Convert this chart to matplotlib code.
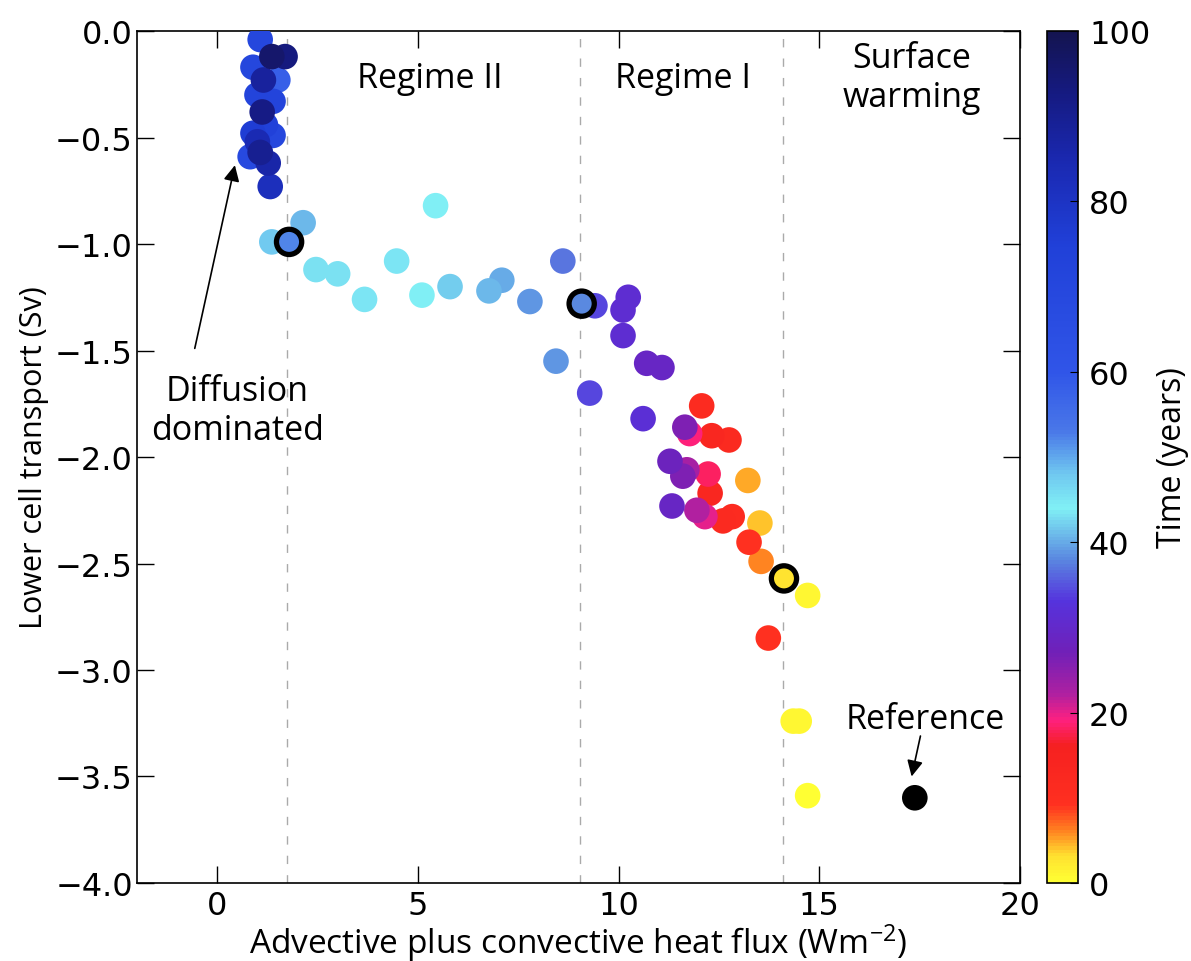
import numpy as np
import matplotlib
matplotlib.use("Agg")
import matplotlib.pyplot as plt
from matplotlib.colors import LinearSegmentedColormap, Normalize

plt.rcParams['font.family'] = ['Open Sans', 'DejaVu Sans']
plt.rcParams['mathtext.fontset'] = 'custom'
plt.rcParams['mathtext.rm'] = 'Open Sans'
plt.rcParams['mathtext.it'] = 'Open Sans:italic'

# Heat flux (W m^-2), lower-cell transport (Sv), time (years)
heat_flux = [14.71, 14.35, 14.50, 14.71, 13.52, 13.22, 13.55, 13.73, 13.25, 12.07,
             12.83, 12.60, 12.75, 12.32, 12.28, 12.23, 11.77, 12.15, 11.95, 11.70,
             11.65, 11.60, 11.28, 11.08, 10.70, 11.33, 10.11, 10.11, 10.24, 10.61,
             9.41, 9.28, 8.61, 8.44, 7.79, 7.09, 6.77, 2.14, 5.80, 3.00,
             2.46, 5.10, 5.44, 4.47, 3.67, 1.36, 1.51, 0.82, 0.89, 1.39,
             1.07, 0.99, 1.39, 1.07, 0.89, 1.32, 1.27, 1.15, 1.07, 1.12,
             1.69, 1.36, 1.20, 1.00]
transport = [-3.59, -3.24, -3.24, -2.65, -2.31, -2.11, -2.49, -2.85, -2.40, -1.76,
             -2.28, -2.30, -1.92, -1.90, -2.17, -2.08, -1.89, -2.28, -2.25, -2.06,
             -1.86, -2.09, -2.02, -1.58, -1.56, -2.23, -1.43, -1.31, -1.25, -1.82,
             -1.29, -1.70, -1.08, -1.55, -1.27, -1.17, -1.22, -0.90, -1.20, -1.14,
             -1.12, -1.24, -0.82, -1.08, -1.26, -0.99, -0.23, -0.59, -0.17, -0.49,
             -0.04, -0.30, -0.33, -0.57, -0.48, -0.73, -0.62, -0.23, -0.57, -0.38,
             -0.12, -0.12, -0.44, -0.52]
years = [0, 1, 1, 1, 4, 5, 6, 9, 9, 11,
         11, 12, 12, 13, 13, 18, 19, 20, 22, 23,
         26, 26, 28, 29, 29, 29, 31, 31, 31, 32,
         34, 34, 37, 39, 39, 40, 41, 41, 42, 43,
         43, 44, 44, 45, 45, 48, 58, 68, 70, 70,
         70, 72, 72, 75, 76, 82, 86, 88, 90, 92,
         93, 96, 74, 84]

# Highlighted states at the regime boundaries
marked_flux = [1.79, 9.08, 14.12]
marked_transport = [-0.99, -1.28, -2.57]
marked_years = [52, 38, 3]
boundaries = [1.75, 9.05, 14.1]

# Reference (unperturbed) state
ref_flux = [17.38]
ref_transport = [-3.60]

regime_labels = ["Regime II", "Regime I", "Surface\nwarming"]
regime_x = [5.3, 11.6, 17.3]

cmap = LinearSegmentedColormap.from_list("time", [
    (0.00, '#ffff33'), (0.03, '#ffe030'), (0.06, '#ff8020'), (0.09, '#ff3020'),
    (0.16, '#f52020'), (0.19, '#ff2080'), (0.22, '#b020a0'), (0.27, '#7020b8'),
    (0.33, '#5533dd'), (0.38, '#5a88e0'), (0.44, '#80f0f5'), (0.48, '#70c8f0'),
    (0.53, '#4a78e8'), (0.60, '#3055e8'), (0.75, '#2040d8'), (0.85, '#1a28b0'),
    (0.93, '#151a80'), (1.00, '#141450')])
norm = Normalize(0, 100)

fig = plt.figure(figsize=(11.91, 9.62), dpi=100)
ax = fig.add_axes([0.115, 0.0811, 0.7414, 0.8856])
cax = fig.add_axes([0.879, 0.0811, 0.026, 0.8856])

for xb in boundaries:
    ax.axvline(xb, color='#aaaaaa', lw=1.0, ls=(0, (6, 8)), zorder=1)

order = np.argsort(years, kind='stable')
sc = ax.scatter(np.asarray(heat_flux)[order], np.asarray(transport)[order],
                c=np.asarray(years)[order], cmap=cmap, norm=norm, s=340,
                edgecolors='none', zorder=3)
ax.scatter(marked_flux, marked_transport, c=marked_years, cmap=cmap, norm=norm,
           s=330, edgecolors='black', linewidths=3.8, zorder=4)
ax.scatter(ref_flux, ref_transport, color='black', s=340, edgecolors='none', zorder=4)

ax.set_xlim(-2, 20)
ax.set_ylim(-4, 0)
ax.set_xticks([0, 5, 10, 15, 20])
yt = np.arange(-4, 0.01, 0.5)
ax.set_yticks(yt)
ax.set_yticklabels([f"{v:.1f}".replace('-', '\u2212') for v in yt])
ax.tick_params(direction='in', length=12, width=1.0, top=True, right=True,
               labelsize=23, pad=5)
ax.tick_params(axis='y', pad=3)
for lab in ax.get_xticklabels() + ax.get_yticklabels():
    lab.set_fontfamily('DejaVu Sans')
for sp in ax.spines.values():
    sp.set_linewidth(1.2)

ax.set_xlabel(r'Advective plus convective heat flux (Wm$^{-2}$)', fontsize=24, labelpad=0)
ax.set_ylabel('Lower cell transport (Sv)', fontsize=22, labelpad=4)

for lab, xr in zip(regime_labels, regime_x):
    ax.text(xr, -0.22, lab, ha='center', va='center', fontsize=24.5,
            linespacing=1.2)

ax.text(0.5, -1.78, "Diffusion\ndominated", ha='center', va='center',
        fontsize=24.5, linespacing=1.2)
ax.annotate("", xy=(0.44, -0.63), xytext=(-0.56, -1.49),
            arrowprops=dict(arrowstyle='-|>', color='black', lw=1.2,
                            mutation_scale=24, shrinkA=0, shrinkB=0))
ax.text(17.63, -3.23, "Reference", ha='center', va='center', fontsize=24.5)
ax.annotate("", xy=(17.30, -3.50), xytext=(17.52, -3.31),
            arrowprops=dict(arrowstyle='-|>', color='black', lw=1.2,
                            mutation_scale=24, shrinkA=0, shrinkB=0))

cb = fig.colorbar(sc, cax=cax, ticks=[0, 20, 40, 60, 80, 100])
cb.ax.tick_params(direction='in', length=6, labelsize=23, pad=8)
for lab in cb.ax.get_yticklabels():
    lab.set_fontfamily('DejaVu Sans')
cb.outline.set_linewidth(1.2)
cb.set_label('Time (years)', fontsize=23, labelpad=4)

fig.savefig("out.png", dpi=100)
